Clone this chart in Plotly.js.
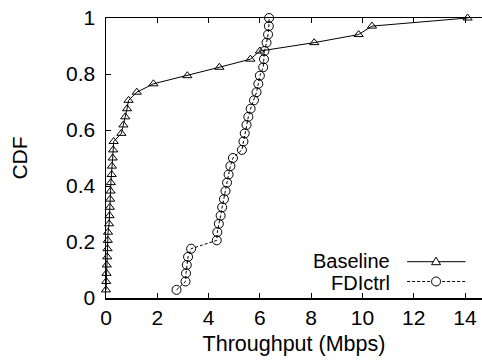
<!DOCTYPE html>
<html>
<head>
<meta charset="utf-8">
<script src="https://cdn.plot.ly/plotly-3.0.1.min.js"></script>
<style>html,body{margin:0;padding:0;background:#fff;}#chart{width:482px;height:362px;}</style>
</head>
<body>
<div id="chart"></div>
<script>
// CDF levels (34 samples each)
var cdfLevels = [0.029,0.059,0.088,0.118,0.147,0.176,0.206,0.235,0.265,0.294,0.324,0.353,0.382,0.412,0.441,0.471,0.5,0.529,0.559,0.588,0.618,0.647,0.676,0.706,0.735,0.765,0.794,0.824,0.853,0.882,0.912,0.941,0.971,1.0];
var baselineX = [0.0,0.01,0.02,0.03,0.05,0.06,0.07,0.08,0.12,0.14,0.15,0.16,0.18,0.19,0.22,0.23,0.26,0.28,0.30,0.6,0.68,0.75,0.82,0.88,1.2,1.85,3.17,4.42,5.63,6.0,8.12,9.85,10.37,14.1];
var fdictrlX = [2.75,3.1,3.12,3.15,3.2,3.32,4.32,4.34,4.4,4.47,4.53,4.6,4.66,4.72,4.78,4.85,4.95,5.3,5.36,5.41,5.48,5.55,5.64,5.77,5.87,5.94,6.0,6.13,6.16,6.18,6.26,6.32,6.35,6.36];
var seriesNames = ["Baseline","FDIctrl"];
var xTicks = [0,2,4,6,8,10,12,14];
var yTicks = [0,0.2,0.4,0.6,0.8,1];

var FONT = "Liberation Sans, Arial, Helvetica, sans-serif";
var L = 105.5, T = 18, B = 64, W = 482, H = 362;
var plotW = W - L, plotH = H - T - B;
function px2x(p){ return (p - L) / plotW; }
function px2y(p){ return (H - B - p) / plotH; }

var traces = [
  {x: baselineX, y: cdfLevels, name: seriesNames[0], mode: "lines+markers", type: "scatter",
   line: {color: "#000", width: 1}, marker: {symbol: "triangle-up-open", size: 8, color: "#000", line: {width: 1, color: "#000"}},
   cliponaxis: false, showlegend: false},
  {x: fdictrlX, y: cdfLevels, name: seriesNames[1], mode: "lines+markers", type: "scatter",
   line: {color: "#000", width: 1, dash: "3px,2px"}, marker: {symbol: "circle-open", size: 9, color: "#000", line: {width: 1, color: "#000"}},
   cliponaxis: false, showlegend: false}
];

var legY1 = px2y(260.5), legY2 = px2y(283);
var lx0 = px2x(407), lx1 = px2x(465.5), lxm = px2x(436);

var layout = {
  width: W, height: H,
  margin: {l: L, r: 0, t: T, b: B, pad: 0},
  paper_bgcolor: "#fff", plot_bgcolor: "#fff",
  font: {family: FONT, size: 21, color: "#000"},
  showlegend: false,
  xaxis: {
    range: [0, (W - L) / ((465 - L) / 14)], tickvals: xTicks, ticktext: xTicks.map(String),
    ticks: "inside", ticklen: 5, tickwidth: 1, tickcolor: "#000",
    showline: true, linecolor: "#000", linewidth: 1.5, mirror: "ticks",
    showgrid: false, zeroline: false, tickfont: {family: FONT, size: 21},
    title: {text: "Throughput (Mbps)", font: {family: FONT, size: 21.5}, standoff: 8}
  },
  yaxis: {
    range: [0, 1], tickvals: yTicks, ticktext: yTicks.map(String),
    ticks: "inside", ticklen: 5, tickwidth: 1, tickcolor: "#000",
    showline: true, linecolor: "#000", linewidth: 1.5, ticklabelstandoff: 5,
    showgrid: false, zeroline: false, tickfont: {family: FONT, size: 21},
    title: {text: "CDF", font: {family: FONT, size: 21}, standoff: 32}
  },
  annotations: [
    {text: seriesNames[0], xref: "paper", yref: "paper", x: px2x(392), y: legY1, xanchor: "right", yanchor: "middle", showarrow: false, font: {family: FONT, size: 20}},
    {text: seriesNames[1], xref: "paper", yref: "paper", x: px2x(392), y: legY2, xanchor: "right", yanchor: "middle", showarrow: false, font: {family: FONT, size: 20}}
  ],
  shapes: [
    {type: "line", xref: "paper", yref: "paper", x0: lx0, x1: lx1, y0: px2y(261.7), y1: px2y(261.7), line: {color: "#000", width: 1}},
    {type: "line", xref: "paper", yref: "paper", x0: lx0, x1: lx1, y0: px2y(281.5), y1: px2y(281.5), line: {color: "#000", width: 1, dash: "3px,2px"}},
    {type: "path", xref: "paper", yref: "paper", xsizemode: "pixel", ysizemode: "pixel", xanchor: lxm, yanchor: px2y(261.7),
     path: "M -4.5,-3 L 4.5,-3 L 0,4.5 Z", line: {color: "#000", width: 1}, fillcolor: "#fff"},
    {type: "circle", xref: "paper", yref: "paper", xsizemode: "pixel", ysizemode: "pixel", xanchor: lxm, yanchor: px2y(281.5),
     x0: -4.5, x1: 4.5, y0: -4.5, y1: 4.5, line: {color: "#000", width: 1}, fillcolor: "#fff"}
  ]
};

Plotly.newPlot("chart", traces, layout, {displayModeBar: false, staticPlot: true});
</script>
</body>
</html>
